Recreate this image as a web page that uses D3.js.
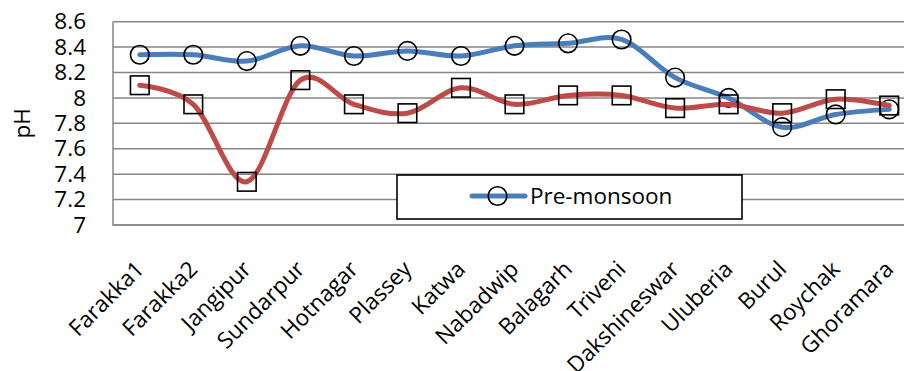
<!DOCTYPE html>
<html>
<head>
<meta charset="utf-8">
<script src="https://cdn.jsdelivr.net/npm/d3@7"></script>
<style>
  html, body { margin: 0; padding: 0; background: #fff; }
  svg { display: block; }
  text { font-family: "Open Sans", Lato, sans-serif; fill: #000; }
</style>
</head>
<body>
<svg id="chart" width="904" height="371"></svg>
<script>
// Sampling stations along the river
const stations = ["Farakka1", "Farakka2", "Jangipur", "Sundarpur", "Hotnagar", "Plassey", "Katwa",
  "Nabadwip", "Balagarh", "Triveni", "Dakshineswar", "Uluberia", "Burul", "Roychak", "Ghoramara"];

// pH per station
const preMonsoon  = [8.34, 8.34, 8.29, 8.41, 8.33, 8.37, 8.33, 8.41, 8.43, 8.46, 8.16, 8.00, 7.77, 7.87, 7.91];
const postMonsoon = [8.10, 7.95, 7.34, 8.14, 7.95, 7.88, 8.08, 7.95, 8.02, 8.02, 7.92, 7.95, 7.88, 7.99, 7.94];

const yTicks = [7, 7.2, 7.4, 7.6, 7.8, 8, 8.2, 8.4, 8.6];

const FONT = "22.5px";

const svg = d3.select("#chart");
const plot = { left: 113, right: 916, top: 21.7, bottom: 225 };

const x = d3.scaleBand().domain(stations).range([plot.left, plot.right]);
const y = d3.scaleLinear().domain([7, 8.6]).range([plot.bottom, plot.top]);
const cx = d => x(d) + x.bandwidth() / 2;

// Horizontal gridlines
svg.append("g")
  .selectAll("line")
  .data(yTicks)
  .join("line")
  .attr("x1", plot.left).attr("x2", plot.right)
  .attr("y1", d => y(d)).attr("y2", d => y(d))
  .attr("stroke", "#868686").attr("stroke-width", 1.5);

// Plot border (left and bottom)
svg.append("path")
  .attr("d", `M${plot.left},${plot.top}V${plot.bottom}H${plot.right}`)
  .attr("fill", "none").attr("stroke", "#868686").attr("stroke-width", 1.5);

// Y axis labels
const yAxis = d3.axisLeft(y).tickValues(yTicks).tickSize(0).tickPadding(27).tickFormat(d3.format("~g"));
const gy = svg.append("g").attr("transform", `translate(${plot.left},0)`).call(yAxis);
gy.select(".domain").remove();
gy.selectAll("text").style("font-size", FONT).attr("fill", "#000")
  .style("font-family", "'Open Sans', Lato, sans-serif");

// Y axis title
svg.append("text")
  .attr("transform", `translate(22,${(plot.top + plot.bottom) / 2}) rotate(-90)`)
  .attr("text-anchor", "middle")
  .attr("dy", "0.35em")
  .style("font-size", FONT)
  .text("pH");

// X axis labels, rotated
svg.append("g")
  .selectAll("text")
  .data(stations)
  .join("text")
  .attr("transform", d => `translate(${cx(d)},265) rotate(-45)`)
  .attr("text-anchor", "end")
  .attr("dy", "0.35em")
  .style("font-size", FONT)
  .text(d => d);

const line = d3.line()
  .x((v, i) => cx(stations[i]))
  .y(v => y(v))
  .curve(d3.curveCatmullRom.alpha(0));

// Pre-monsoon series
svg.append("path")
  .datum(preMonsoon)
  .attr("d", line)
  .attr("fill", "none").attr("stroke", "#4a7ebb").attr("stroke-width", 5)
  .attr("stroke-linecap", "round");
svg.append("g")
  .selectAll("circle")
  .data(preMonsoon)
  .join("circle")
  .attr("cx", (v, i) => cx(stations[i]))
  .attr("cy", v => y(v))
  .attr("r", 9.3)
  .attr("fill", "none").attr("stroke", "#000").attr("stroke-width", 1.6);

// Post-monsoon series
svg.append("path")
  .datum(postMonsoon)
  .attr("d", line)
  .attr("fill", "none").attr("stroke", "#be4b48").attr("stroke-width", 5)
  .attr("stroke-linecap", "round");
svg.append("g")
  .selectAll("rect")
  .data(postMonsoon)
  .join("rect")
  .attr("x", (v, i) => cx(stations[i]) - 9.3)
  .attr("y", v => y(v) - 9.3)
  .attr("width", 18.6).attr("height", 18.6)
  .attr("fill", "none").attr("stroke", "#000").attr("stroke-width", 1.6);

// Legend
const legend = svg.append("g");
legend.append("rect")
  .attr("x", 397).attr("y", 175).attr("width", 345).attr("height", 44)
  .attr("fill", "#fff").attr("stroke", "#000").attr("stroke-width", 1.6);
legend.append("line")
  .attr("x1", 472).attr("x2", 525).attr("y1", 196).attr("y2", 196)
  .attr("stroke", "#4a7ebb").attr("stroke-width", 5).attr("stroke-linecap", "round");
legend.append("circle")
  .attr("cx", 497.5).attr("cy", 196).attr("r", 9.3)
  .attr("fill", "none").attr("stroke", "#000").attr("stroke-width", 1.6);
legend.append("text")
  .attr("x", 530).attr("y", 196).attr("dy", "0.35em")
  .style("font-size", FONT)
  .text("Pre-monsoon");
</script>
</body>
</html>
